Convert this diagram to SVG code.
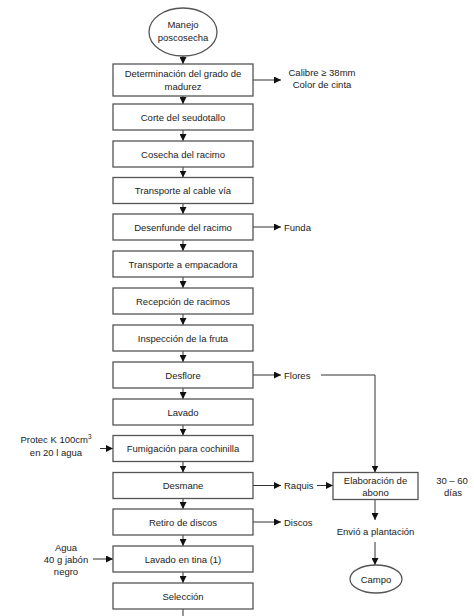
<svg xmlns="http://www.w3.org/2000/svg" width="474" height="616" viewBox="0 0 474 616">
<style>
.box{fill:#fff;stroke:#555;stroke-width:1.3}
.t{font-family:"Liberation Sans",Arial,sans-serif;font-size:9.5px;fill:#222;text-anchor:middle}
.tl{font-family:"Liberation Sans",Arial,sans-serif;font-size:9.5px;fill:#222}
.c{fill:none;stroke:#333;stroke-width:1}
</style>
<defs>
<marker id="ah" markerUnits="userSpaceOnUse" markerWidth="7" markerHeight="7" refX="7" refY="3.5" orient="auto">
<path d="M0,0 L7,3.5 L0,7 z" fill="#111"/>
</marker>
</defs>
<rect width="474" height="616" fill="#fff"/>
<g id="connectors">
<line class="c" x1="183" y1="56" x2="183" y2="64" marker-end="url(#ah)"/>
<line class="c" x1="183" y1="96" x2="183" y2="104" marker-end="url(#ah)"/>
<line class="c" x1="183" y1="130" x2="183" y2="141" marker-end="url(#ah)"/>
<line class="c" x1="183" y1="167" x2="183" y2="177.5" marker-end="url(#ah)"/>
<line class="c" x1="183" y1="203.5" x2="183" y2="214" marker-end="url(#ah)"/>
<line class="c" x1="183" y1="240" x2="183" y2="251" marker-end="url(#ah)"/>
<line class="c" x1="183" y1="277" x2="183" y2="288" marker-end="url(#ah)"/>
<line class="c" x1="183" y1="314" x2="183" y2="325" marker-end="url(#ah)"/>
<line class="c" x1="183" y1="351" x2="183" y2="362" marker-end="url(#ah)"/>
<line class="c" x1="183" y1="388" x2="183" y2="399" marker-end="url(#ah)"/>
<line class="c" x1="183" y1="425" x2="183" y2="435.5" marker-end="url(#ah)"/>
<line class="c" x1="183" y1="461.5" x2="183" y2="472.5" marker-end="url(#ah)"/>
<line class="c" x1="183" y1="498.5" x2="183" y2="509" marker-end="url(#ah)"/>
<line class="c" x1="183" y1="535" x2="183" y2="546" marker-end="url(#ah)"/>
<line class="c" x1="183" y1="572" x2="183" y2="583" marker-end="url(#ah)"/>
<line class="c" x1="183" y1="609" x2="183" y2="616"/>
<line class="c" x1="253" y1="80" x2="281" y2="80" marker-end="url(#ah)"/>
<line class="c" x1="253" y1="227" x2="281" y2="227" marker-end="url(#ah)"/>
<line class="c" x1="253" y1="375" x2="281" y2="375" marker-end="url(#ah)"/>
<line class="c" x1="253" y1="485.5" x2="281" y2="485.5" marker-end="url(#ah)"/>
<line class="c" x1="253" y1="522" x2="281" y2="522" marker-end="url(#ah)"/>
<line class="c" x1="100" y1="448.5" x2="113" y2="448.5" marker-end="url(#ah)"/>
<line class="c" x1="93" y1="559" x2="113" y2="559" marker-end="url(#ah)"/>
<polyline class="c" points="321,375 375,375 375,472.5" marker-end="url(#ah)"/>
<line class="c" x1="317" y1="485.5" x2="333" y2="485.5" marker-end="url(#ah)"/>
<line class="c" x1="375" y1="499.5" x2="375" y2="520" marker-end="url(#ah)"/>
<line class="c" x1="375" y1="542" x2="375" y2="565" marker-end="url(#ah)"/>
</g>
<g id="n-inicio">
<ellipse cx="183" cy="32" rx="34" ry="24" class="box"/>
<text class="t" x="183" y="28">Manejo</text>
<text class="t" x="183" y="41">poscosecha</text>
</g>
<g id="n1"><rect class="box" x="113" y="64" width="140" height="32"/>
<text class="t" x="183" y="77">Determinación del grado de</text>
<text class="t" x="183" y="90">madurez</text></g>
<g id="n1-out"><text class="t" x="322" y="76">Calibre ≥ 38mm</text>
<text class="t" x="322" y="88">Color de cinta</text></g>
<g id="n2"><rect class="box" x="113" y="104" width="140" height="26"/><text class="t" x="183" y="120.5">Corte del seudotallo</text></g>
<g id="n3"><rect class="box" x="113" y="141" width="140" height="26"/><text class="t" x="183" y="157.5">Cosecha del racimo</text></g>
<g id="n4"><rect class="box" x="113" y="177.5" width="140" height="26"/><text class="t" x="183" y="194">Transporte al cable vía</text></g>
<g id="n5"><rect class="box" x="113" y="214" width="140" height="26"/><text class="t" x="183" y="230.5">Desenfunde del racimo</text></g>
<g id="n5-out"><text class="tl" x="284" y="230.5">Funda</text></g>
<g id="n6"><rect class="box" x="113" y="251" width="140" height="26"/><text class="t" x="183" y="267.5">Transporte a empacadora</text></g>
<g id="n7"><rect class="box" x="113" y="288" width="140" height="26"/><text class="t" x="183" y="304.5">Recepción de racimos</text></g>
<g id="n8"><rect class="box" x="113" y="325" width="140" height="26"/><text class="t" x="183" y="341.5">Inspección de la fruta</text></g>
<g id="n9"><rect class="box" x="113" y="362" width="140" height="26"/><text class="t" x="183" y="378.5">Desflore</text></g>
<g id="n9-out"><text class="tl" x="284" y="378.5">Flores</text></g>
<g id="n10"><rect class="box" x="113" y="399" width="140" height="26"/><text class="t" x="183" y="415.5">Lavado</text></g>
<g id="n11"><rect class="box" x="113" y="435.5" width="140" height="26"/><text class="t" x="183" y="452">Fumigación para cochinilla</text></g>
<g id="n11-in"><text class="t" x="56" y="443">Protec K 100cm<tspan dy="-4" font-size="6.5">3</tspan></text>
<text class="t" x="56" y="456">en 20 l agua</text></g>
<g id="n12"><rect class="box" x="113" y="472.5" width="140" height="26"/><text class="t" x="183" y="489">Desmane</text></g>
<g id="n12-out"><text class="tl" x="284" y="489">Raquis</text></g>
<g id="n13"><rect class="box" x="113" y="509" width="140" height="26"/><text class="t" x="183" y="525.5">Retiro de discos</text></g>
<g id="n13-out"><text class="tl" x="284" y="525.5">Discos</text></g>
<g id="n14"><rect class="box" x="113" y="546" width="140" height="26"/><text class="t" x="183" y="562.5">Lavado en tina (1)</text></g>
<g id="n14-in"><text class="t" x="66" y="551">Agua</text>
<text class="t" x="66" y="563">40 g jabón</text>
<text class="t" x="66" y="575">negro</text></g>
<g id="n15"><rect class="box" x="113" y="583" width="140" height="26"/><text class="t" x="183" y="599.5">Selección</text></g>
<g id="n-abono"><rect class="box" x="333" y="472.5" width="85" height="27"/>
<text class="t" x="375.5" y="483.5">Elaboración de</text>
<text class="t" x="375.5" y="495.5">abono</text></g>
<g id="n-dias"><text class="t" x="452" y="483.5">30 – 60</text>
<text class="t" x="453" y="495.5">días</text></g>
<g id="n-envio"><text class="t" x="375.5" y="535">Envió a plantación</text></g>
<g id="n-campo"><ellipse class="box" cx="376" cy="579" rx="26" ry="14"/><text class="t" x="376" y="582.5">Campo</text></g>
</svg>
